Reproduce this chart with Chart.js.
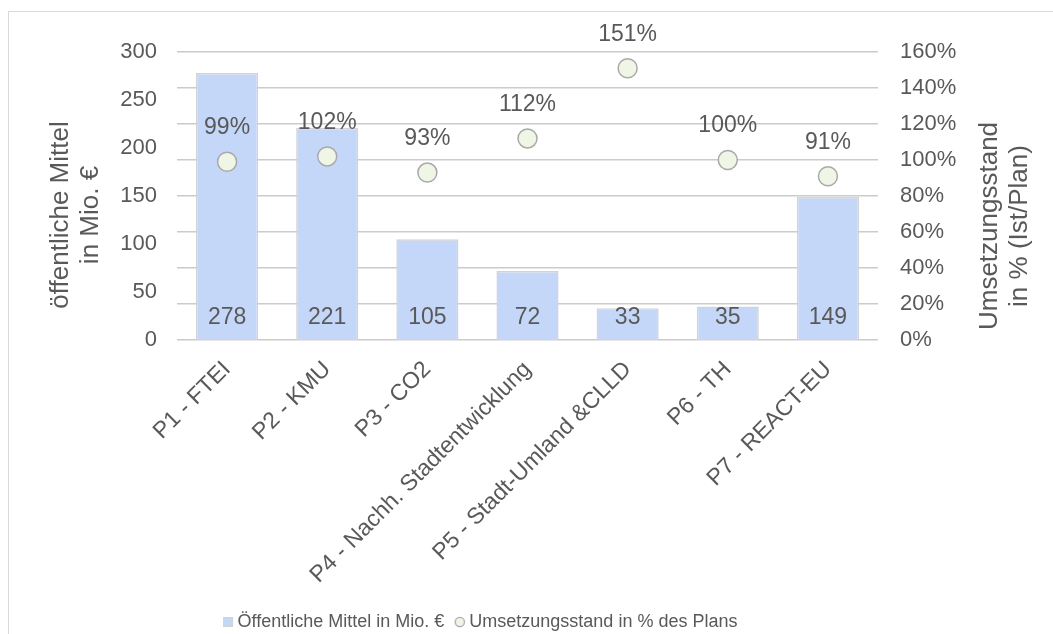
<!DOCTYPE html>
<html><head><meta charset="utf-8">
<script src="https://cdn.jsdelivr.net/npm/chart.js@4.4.0/dist/chart.umd.min.js"></script>
<style>
html,body{margin:0;padding:0;background:#fff;}
#wrap{position:relative;width:1053px;height:634px;overflow:hidden;background:#fff;}
#frame{position:absolute;left:8px;top:11px;width:1100px;height:700px;border:1.5px solid #d9d9d9;box-sizing:border-box;}
canvas{position:absolute;left:0;top:0;}
</style></head><body>
<div id="wrap"><div id="frame"></div><canvas id="c" width="1053" height="634"></canvas></div>
<script>
// ---- data ----
const categories = ['P1 - FTEI', 'P2 - KMU', 'P3 - CO2', 'P4 - Nachh. Stadtentwicklung', 'P5 - Stadt-Umland &CLLD', 'P6 - TH', 'P7 - REACT-EU'];
const funds = [278, 221, 105, 72, 33, 35, 149];          // öffentliche Mittel in Mio. €
const progress = [99, 102, 93, 112, 151, 100, 91];        // Umsetzungsstand in %
const leftTicks = [0, 50, 100, 150, 200, 250, 300];
const rightTicks = [0, 20, 40, 60, 80, 100, 120, 140, 160];
const seriesNames = ['Öffentliche Mittel in Mio. €', 'Umsetzungsstand in % des Plans'];
const leftTitle = ['öffentliche Mittel', 'in Mio. €'];
const rightTitle = ['Umsetzungsstand', 'in % (Ist/Plan)'];

// ---- styles ----
const FONT = '"Liberation Sans", Arial, sans-serif';
const TXT = '#595959';
const BAR_FILL = '#C4D7F8';
const BAR_BORDER = '#D3D3D3';
const PT_FILL = '#EFF6E6';
const PT_BORDER = '#A9A9A9';
const GRID = '#CBCBCB';
const BOTTOM_PAD = -7;

function makeIcon(kind) {
  const c = document.createElement('canvas');
  c.width = 12; c.height = 12;
  const g = c.getContext('2d');
  if (kind === 'rect') {
    g.fillStyle = BAR_FILL; g.fillRect(1, 1, 10, 10);
    g.strokeStyle = BAR_BORDER; g.lineWidth = 1; g.strokeRect(1.5, 1.5, 9, 9);
  } else {
    g.beginPath(); g.arc(6, 6, 4.6, 0, Math.PI * 2);
    g.fillStyle = PT_FILL; g.fill();
    g.strokeStyle = PT_BORDER; g.lineWidth = 1.3; g.stroke();
  }
  return c;
}
const icons = [makeIcon('rect'), makeIcon('circle')];

const labelPlugin = {
  id: 'valueLabels',
  afterDatasetsDraw(chart) {
    const ctx = chart.ctx;
    ctx.save();
    ctx.fillStyle = TXT;
    ctx.font = '23px ' + FONT;
    ctx.textAlign = 'center';
    ctx.textBaseline = 'middle';
    const base = chart.scales.y.getPixelForValue(0);
    chart.getDatasetMeta(0).data.forEach((el, i) => {
      ctx.fillText(String(funds[i]), el.x, base - 22);
    });
    chart.getDatasetMeta(1).data.forEach((el, i) => {
      ctx.fillText(progress[i] + '%', el.x, el.y - 34);
    });
    ctx.restore();
  }
};

const titlePlugin = {
  id: 'axisTitles',
  afterDraw(chart) {
    const ctx = chart.ctx;
    ctx.save();
    ctx.fillStyle = TXT;
    ctx.font = '26px ' + FONT;
    ctx.textAlign = 'center';
    ctx.textBaseline = 'middle';
    const drawRot = (lines, xs, y) => {
      lines.forEach((t, k) => {
        ctx.save();
        ctx.translate(xs[k], y);
        ctx.rotate(-Math.PI / 2);
        ctx.fillText(t, 0, 0);
        ctx.restore();
      });
    };
    drawRot(leftTitle, [61, 91], 215);
    drawRot(rightTitle, [990, 1020], 226);
    ctx.restore();
  }
};

new Chart(document.getElementById('c'), {
  data: {
    labels: categories,
    datasets: [
      {
        type: 'bar',
        label: seriesNames[0],
        data: funds,
        yAxisID: 'y',
        backgroundColor: BAR_FILL,
        borderColor: BAR_BORDER,
        borderWidth: 1.5,
        barPercentage: 0.62,
        categoryPercentage: 1.0,
        order: 2
      },
      {
        type: 'line',
        label: seriesNames[1],
        data: progress,
        yAxisID: 'y1',
        showLine: false,
        pointRadius: 9.5,
        pointHoverRadius: 9.5,
        pointBackgroundColor: PT_FILL,
        pointBorderColor: PT_BORDER,
        pointBorderWidth: 1.5,
        order: 1
      }
    ]
  },
  options: {
    responsive: false,
    animation: false,
    events: [],
    layout: { padding: { top: 52, right: 88, left: 0, bottom: BOTTOM_PAD } },
    plugins: {
      tooltip: { enabled: false },
      legend: {
        position: 'bottom',
        labels: {
          usePointStyle: true,
          boxWidth: 1,
          boxHeight: 10,
          padding: 15,
          color: TXT,
          font: { family: FONT, size: 18 },
          generateLabels(chart) {
            return chart.data.datasets.map((ds, i) => ({
              text: ds.label,
              pointStyle: icons[i],
              fillStyle: 'transparent',
              strokeStyle: 'transparent',
              lineWidth: 0,
              hidden: false,
              datasetIndex: i,
              fontColor: TXT
            }));
          }
        }
      }
    },
    scales: {
      x: {
        grid: { display: false, drawTicks: false },
        border: { display: false },
        ticks: {
          color: TXT,
          font: { family: FONT, size: 23 },
          minRotation: 45,
          maxRotation: 45,
          autoSkip: false,
          padding: 16
        },
        afterFit(scale) {
          const lh = scale.chart.legend ? scale.chart.legend.height : 0;
          scale.height = scale.chart.height - BOTTOM_PAD - lh - 340;
        }
      },
      y: {
        position: 'left',
        min: 0, max: 300,
        grid: { display: false, drawTicks: false },
        border: { display: false },
        afterBuildTicks(scale) { scale.ticks = leftTicks.map(v => ({ value: v })); },
        ticks: {
          color: TXT,
          font: { family: FONT, size: 22 },
          padding: 20,
          callback: v => String(v)
        },
        afterFit(scale) { scale.width = 177; }
      },
      y1: {
        position: 'right',
        min: 0, max: 160,
        grid: { display: true, drawTicks: false, color: GRID, lineWidth: 1.6 },
        border: { display: false },
        afterBuildTicks(scale) { scale.ticks = rightTicks.map(v => ({ value: v })); },
        ticks: {
          color: TXT,
          font: { family: FONT, size: 22 },
          padding: 22,
          callback: v => v + '%'
        },
        afterFit(scale) { scale.width = 1053 - 88 - 878; }
      }
    }
  },
  plugins: [labelPlugin, titlePlugin]
});
</script>
</body></html>
